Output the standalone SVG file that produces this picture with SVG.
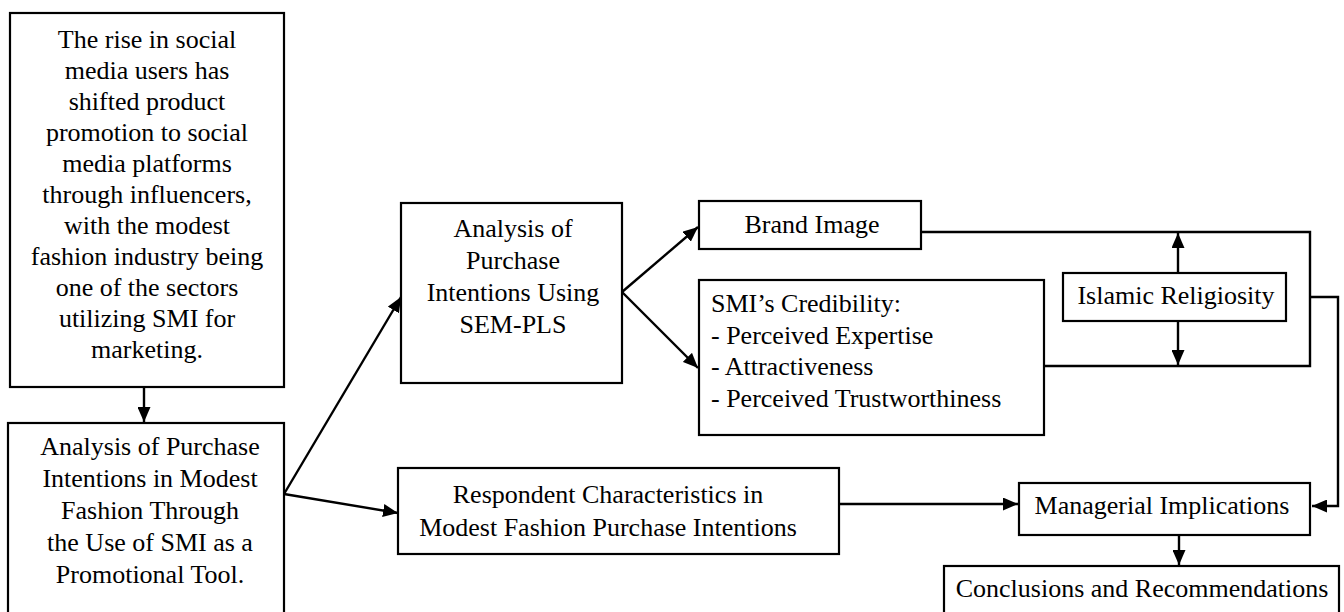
<svg xmlns="http://www.w3.org/2000/svg" width="1344" height="612" viewBox="0 0 1344 612">
<style>
.box{fill:#fff;stroke:#000;stroke-width:2.2}
.t{font-family:"Liberation Serif","Times New Roman",Times,serif;font-size:26px;fill:#000}
.c{text-anchor:middle}
.ln{fill:none;stroke:#000;stroke-width:2.4}
</style>
<defs>
<marker id="ah" markerUnits="userSpaceOnUse" markerWidth="15" markerHeight="13" refX="15" refY="6.5" orient="auto">
<path d="M0,0 L15,6.5 L0,13 Z" fill="#000"/>
</marker>
</defs>
<g id="connectors">
<line class="ln" x1="144" y1="387" x2="144" y2="422" marker-end="url(#ah)"/>
<line class="ln" x1="284" y1="494" x2="401" y2="297" marker-end="url(#ah)"/>
<line class="ln" x1="284" y1="494" x2="398" y2="513" marker-end="url(#ah)"/>
<line class="ln" x1="622" y1="292" x2="698" y2="227" marker-end="url(#ah)"/>
<line class="ln" x1="622" y1="292" x2="698" y2="368" marker-end="url(#ah)"/>
<polyline class="ln" points="921,232 1310,232 1310,366 1044,366"/>
<line class="ln" x1="1178" y1="273" x2="1178" y2="233" marker-end="url(#ah)"/>
<line class="ln" x1="1178" y1="321" x2="1178" y2="365" marker-end="url(#ah)"/>
<polyline class="ln" points="1310,297 1338,297 1338,506 1312,506" marker-end="url(#ah)"/>
<line class="ln" x1="839" y1="504" x2="1018" y2="504" marker-end="url(#ah)"/>
<line class="ln" x1="1179" y1="535" x2="1179" y2="565" marker-end="url(#ah)"/>
</g>
<g id="n-rise">
<rect class="box" x="10" y="13" width="274" height="374"/>
<text class="t c" x="147" y="48">The rise in social</text>
<text class="t c" x="147" y="79">media users has</text>
<text class="t c" x="147" y="110">shifted product</text>
<text class="t c" x="147" y="141">promotion to social</text>
<text class="t c" x="147" y="172">media platforms</text>
<text class="t c" x="147" y="203">through influencers,</text>
<text class="t c" x="147" y="234">with the modest</text>
<text class="t c" x="147" y="265">fashion industry being</text>
<text class="t c" x="147" y="296">one of the sectors</text>
<text class="t c" x="147" y="327">utilizing SMI for</text>
<text class="t c" x="147" y="358">marketing.</text>
</g>
<g id="n-analysis-main">
<rect class="box" x="8" y="423" width="276" height="200"/>
<text class="t c" x="150" y="455">Analysis of Purchase</text>
<text class="t c" x="150" y="487">Intentions in Modest</text>
<text class="t c" x="150" y="519">Fashion Through</text>
<text class="t c" x="150" y="551">the Use of SMI as a</text>
<text class="t c" x="150" y="583">Promotional Tool.</text>
</g>
<g id="n-sempls">
<rect class="box" x="401" y="203" width="221" height="180"/>
<text class="t c" x="513" y="237">Analysis of</text>
<text class="t c" x="513" y="269">Purchase</text>
<text class="t c" x="513" y="301">Intentions Using</text>
<text class="t c" x="513" y="333">SEM-PLS</text>
</g>
<g id="n-brand">
<rect class="box" x="699" y="201" width="222" height="48"/>
<text class="t c" x="812" y="233">Brand Image</text>
</g>
<g id="n-smi">
<rect class="box" x="699" y="280" width="345" height="155"/>
<text class="t" x="711" y="312">SMI’s Credibility:</text>
<text class="t" x="711" y="344">- Perceived Expertise</text>
<text class="t" x="711" y="375">- Attractiveness</text>
<text class="t" x="711" y="407">- Perceived Trustworthiness</text>
</g>
<g id="n-islamic">
<rect class="box" x="1063" y="273" width="223" height="48"/>
<text class="t c" x="1176" y="304">Islamic Religiosity</text>
</g>
<g id="n-respondent">
<rect class="box" x="398" y="468" width="441" height="86"/>
<text class="t c" x="608" y="503">Respondent Characteristics in</text>
<text class="t c" x="608" y="536">Modest Fashion Purchase Intentions</text>
</g>
<g id="n-managerial">
<rect class="box" x="1019" y="483" width="291" height="52"/>
<text class="t c" x="1162" y="514">Managerial Implications</text>
</g>
<g id="n-conclusions">
<rect class="box" x="944" y="566" width="395" height="60"/>
<text class="t c" x="1142" y="597">Conclusions and Recommendations</text>
</g>
</svg>
